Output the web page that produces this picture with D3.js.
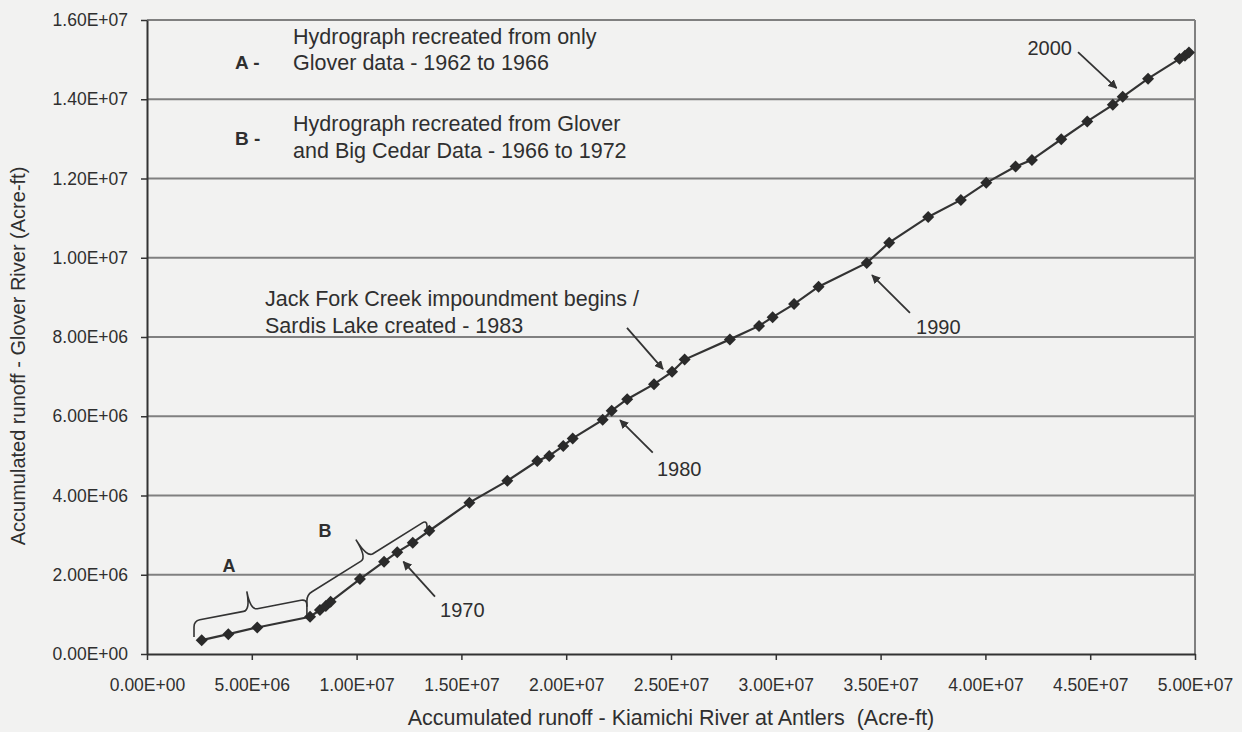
<!DOCTYPE html>
<html><head><meta charset="utf-8">
<script src="https://cdn.jsdelivr.net/npm/d3@7"></script>
<style>
html,body{margin:0;padding:0;background:#f2f2f1;}
svg{display:block;}
text{font-family:"Liberation Sans",Arial,Helvetica,sans-serif;fill:#2f2f2f;white-space:pre;}
</style></head><body>
<svg id="chart" width="1242" height="732"></svg>
<script>
// Accumulated runoff, Kiamichi River at Antlers (acre-ft)
const kiamichi = [2.61e6, 3.88e6, 5.26e6, 7.78e6, 8.25e6, 8.53e6, 8.76e6, 10.16e6, 11.31e6, 11.94e6,
  12.68e6, 13.47e6, 15.38e6, 17.19e6, 18.62e6, 19.19e6, 19.86e6, 20.31e6, 21.74e6, 22.17e6,
  22.91e6, 24.19e6, 25.05e6, 25.65e6, 27.81e6, 29.20e6, 29.85e6, 30.87e6, 32.04e6, 34.34e6,
  35.41e6, 37.27e6, 38.83e6, 40.04e6, 41.44e6, 42.22e6, 43.62e6, 44.86e6, 46.08e6, 46.55e6,
  47.76e6, 49.26e6, 49.52e6, 49.71e6];
// Accumulated runoff, Glover River (acre-ft)
const glover = [0.35e6, 0.50e6, 0.67e6, 0.94e6, 1.11e6, 1.21e6, 1.32e6, 1.89e6, 2.33e6, 2.57e6,
  2.81e6, 3.11e6, 3.82e6, 4.37e6, 4.87e6, 5.00e6, 5.25e6, 5.44e6, 5.91e6, 6.14e6,
  6.43e6, 6.81e6, 7.12e6, 7.43e6, 7.94e6, 8.28e6, 8.50e6, 8.83e6, 9.27e6, 9.87e6,
  10.38e6, 11.03e6, 11.46e6, 11.89e6, 12.30e6, 12.47e6, 12.99e6, 13.44e6, 13.86e6, 14.06e6,
  14.52e6, 15.02e6, 15.10e6, 15.18e6];

const xTicks = [0, 5e6, 10e6, 15e6, 20e6, 25e6, 30e6, 35e6, 40e6, 45e6, 50e6];
const xTickLabels = ["0.00E+00","5.00E+06","1.00E+07","1.50E+07","2.00E+07","2.50E+07",
  "3.00E+07","3.50E+07","4.00E+07","4.50E+07","5.00E+07"];
const yTicks = [0, 2e6, 4e6, 6e6, 8e6, 10e6, 12e6, 14e6, 16e6];
const yTickLabels = ["0.00E+00","2.00E+06","4.00E+06","6.00E+06","8.00E+06","1.00E+07",
  "1.20E+07","1.40E+07","1.60E+07"];

const xTitle = "Accumulated runoff - Kiamichi River at Antlers  (Acre-ft)";
const yTitle = "Accumulated runoff - Glover River (Acre-ft)";

// Legend notes (anchored in data space)
const noteKeys = ["A -", "B -"];
const noteKeyAt = [[4.20e6, 14.76e6], [4.20e6, 12.85e6]];
const noteLines = [["Hydrograph recreated from only", "Glover data - 1962 to 1966"],
                   ["Hydrograph recreated from Glover", "and Big Cedar Data - 1966 to 1972"]];
const noteLineAt = [[[6.97e6, 15.39e6], [6.97e6, 14.74e6]], [[6.97e6, 13.20e6], [6.97e6, 12.52e6]]];

// Callouts with arrows (data space)
const calloutText = [["1970"], ["1980"], ["1990"], ["2000"],
  ["Jack Fork Creek impoundment begins /", "Sardis Lake created - 1983"]];
const calloutAt = [[13.98e6, 0.93e6], [24.33e6, 4.49e6], [36.69e6, 8.08e6], [44.13e6, 15.12e6], [5.63e6, 8.78e6]];
const calloutAnchor = ["start", "start", "start", "end", "start"];
const arrowFrom = [[13.74e6, 1.45e6], [24.13e6, 5.08e6], [36.40e6, 8.61e6], [44.42e6, 15.19e6], [22.90e6, 8.23e6]];
const arrowTo = [[12.23e6, 2.33e6], [22.57e6, 5.90e6], [34.59e6, 9.56e6], [46.26e6, 14.28e6], [24.62e6, 7.19e6]];

// Braces marking periods A and B
const braceNames = ["A", "B"];
const braceStart = [[2.24e6, 0.43e6], [7.63e6, 1.19e6]];
const braceEnd = [[7.63e6, 0.98e6], [13.36e6, 3.08e6]];
const braceLabelAt = [[3.91e6, 2.07e6], [8.49e6, 2.95e6]];

const W = 1242, H = 732;
const m = {left: 147, right: 47, top: 20, bottom: 78};
const svg = d3.select("#chart");
svg.append("rect").attr("width", W).attr("height", H).attr("fill", "#f2f2f1");

const x = d3.scaleLinear().domain([0, 5e7]).range([m.left, W - m.right]);
const y = d3.scaleLinear().domain([0, 1.6e7]).range([H - m.bottom, m.top]);

const ink = "#333";
const grid = "#808080";

// gridlines
svg.append("g").selectAll("line").data(yTicks.filter(d => d > 0)).join("line")
  .attr("x1", x(0)).attr("x2", x(5e7))
  .attr("y1", d => y(d)).attr("y2", d => y(d))
  .attr("stroke", grid).attr("stroke-width", 2);
// right border
svg.append("line").attr("x1", x(5e7)).attr("x2", x(5e7)).attr("y1", y(0)).attr("y2", y(1.6e7))
  .attr("stroke", grid).attr("stroke-width", 2);

// axes
const xAxis = d3.axisBottom(x).tickValues(xTicks).tickFormat((d, i) => xTickLabels[i])
  .tickSize(6).tickSizeOuter(0).tickPadding(19);
const yAxis = d3.axisLeft(y).tickValues(yTicks).tickFormat((d, i) => yTickLabels[i])
  .tickSize(6).tickSizeOuter(0).tickPadding(13);
const gx = svg.append("g").attr("transform", `translate(0,${y(0)})`).call(xAxis);
const gy = svg.append("g").attr("transform", `translate(${x(0)},0)`).call(yAxis);
[gx, gy].forEach(g => {
  g.select(".domain").attr("stroke", ink).attr("stroke-width", 2);
  g.selectAll(".tick line").attr("stroke", ink).attr("stroke-width", 1.5);
  g.selectAll(".tick text").attr("fill", "#2f2f2f").style("font-size", "17.5px")
    .style("font-family", '"Liberation Sans",Arial,sans-serif');
});

// titles
svg.append("text").attr("x", (x(0) + x(5e7)) / 2).attr("y", 725).attr("text-anchor", "middle")
  .style("font-size", "21.5px").text(xTitle);
svg.append("text").attr("transform", `translate(25,356) rotate(-90)`)
  .attr("text-anchor", "middle").style("font-size", "20px").text(yTitle);

// arrow marker
svg.append("defs").append("marker").attr("id", "ah").attr("viewBox", "0 0 10 10")
  .attr("refX", 9).attr("refY", 5).attr("markerWidth", 5).attr("markerHeight", 5)
  .attr("orient", "auto-start-reverse").attr("markerUnits", "strokeWidth")
  .append("path").attr("d", "M0,0 L10,5 L0,10 z").attr("fill", ink);

// series line
const pts = kiamichi.map((v, i) => [v, glover[i]]);
svg.append("path").datum(pts)
  .attr("d", d3.line().x(d => x(d[0])).y(d => y(d[1])))
  .attr("fill", "none").attr("stroke", ink).attr("stroke-width", 2.2);
const r = 6;
svg.append("g").selectAll("path").data(pts).join("path")
  .attr("transform", d => `translate(${x(d[0])},${y(d[1])})`)
  .attr("d", `M0,${-r} L${r},0 L0,${r} L${-r},0 Z`)
  .attr("fill", "#2a2a2a");

// notes A and B
noteKeys.forEach((k, i) => {
  svg.append("text").attr("x", x(noteKeyAt[i][0])).attr("y", y(noteKeyAt[i][1]))
    .style("font-size", "19px").style("font-weight", "bold").text(k);
  noteLines[i].forEach((t, j) => {
    svg.append("text").attr("x", x(noteLineAt[i][j][0])).attr("y", y(noteLineAt[i][j][1]))
      .style("font-size", "21.5px").text(t);
  });
});

// callouts
calloutText.forEach((lines, i) => {
  lines.forEach((t, j) => {
    svg.append("text").attr("x", x(calloutAt[i][0])).attr("y", y(calloutAt[i][1]) + j * 26.5)
      .attr("text-anchor", calloutAnchor[i])
      .style("font-size", lines.length > 1 ? "21.5px" : "20px").text(t);
  });
  svg.append("line")
    .attr("x1", x(arrowFrom[i][0])).attr("y1", y(arrowFrom[i][1]))
    .attr("x2", x(arrowTo[i][0])).attr("y2", y(arrowTo[i][1]))
    .attr("stroke", ink).attr("stroke-width", 1.8).attr("marker-end", "url(#ah)");
});

// braces
function bracePath(p0, p1, h, t) {
  const a0 = [p0[0], p0[1] - h], a1 = [p1[0], p1[1] - h];
  const dx = a1[0] - a0[0], dy = a1[1] - a0[1], L = Math.hypot(dx, dy);
  const u = [dx / L, dy / L], n = [u[1], -u[0]];
  const mid = [(a0[0] + a1[0]) / 2, (a0[1] + a1[1]) / 2];
  const rr = 6, c = 7;
  const P = (p, v, k) => [p[0] + v[0] * k, p[1] + v[1] * k];
  const f = p => p[0].toFixed(1) + "," + p[1].toFixed(1);
  return "M" + f(p0) + " L" + f([a0[0], a0[1] + rr]) + " Q" + f(a0) + " " + f(P(a0, u, rr)) +
    " L" + f(P(mid, u, -c)) + " Q" + f(mid) + " " + f(P(mid, n, t)) +
    " Q" + f(mid) + " " + f(P(mid, u, c)) +
    " L" + f(P(a1, u, -rr)) + " Q" + f(a1) + " " + f([a1[0], a1[1] + rr]) + " L" + f(p1);
}
const braceArm = [16, 12], braceTip = [19, 21];
braceNames.forEach((nm, i) => {
  const p0 = [x(braceStart[i][0]), y(braceStart[i][1])];
  const p1 = [x(braceEnd[i][0]), y(braceEnd[i][1])];
  svg.append("path").attr("d", bracePath(p0, p1, braceArm[i], braceTip[i]))
    .attr("fill", "none").attr("stroke", ink).attr("stroke-width", 1.6);
  svg.append("text").attr("x", x(braceLabelAt[i][0])).attr("y", y(braceLabelAt[i][1]))
    .attr("text-anchor", "middle").style("font-size", "18px").style("font-weight", "bold").text(nm);
});
</script>
</body></html>
